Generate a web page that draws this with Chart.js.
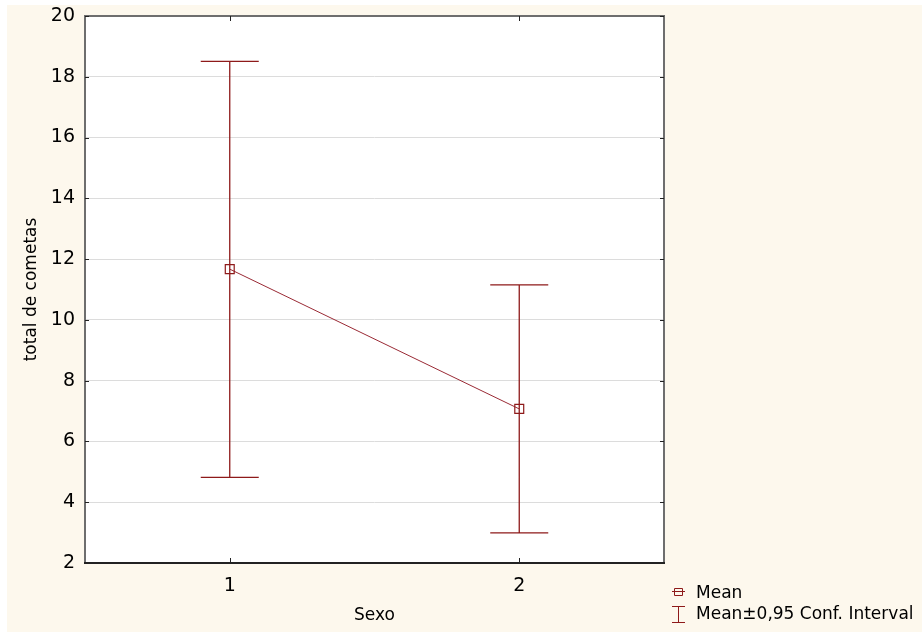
<!DOCTYPE html>
<html>
<head>
<meta charset="utf-8">
<script src="https://cdn.jsdelivr.net/npm/chart.js@4/dist/chart.umd.min.js"></script>
<style>
  html, body { margin: 0; padding: 0; background: #ffffff; }
  #wrap { width: 923px; height: 633px; }
</style>
</head>
<body>
<div id="wrap"><canvas id="c" width="923" height="633"></canvas></div>
<script>
// Sexo groups on the x axis
const categories = ['1', '2'];
// Mean of total de cometas per group
const means = [11.67, 7.07];
// 95% confidence interval bounds
const ciLow = [4.82, 2.99];
const ciHigh = [18.51, 11.15];
// Y axis range and step
const yMin = 2, yMax = 20, yStep = 2;
// Legend entries
const legendLabels = ['Mean', 'Mean\u00B10,95 Conf. Interval'];

const RED = '#8e1a1a';
const FONT = 'DejaVu Sans';

const framePlugin = {
  id: 'frame',
  beforeDraw(chart) {
    const { ctx, chartArea: a } = chart;
    ctx.save();
    ctx.fillStyle = '#ffffff';
    ctx.fillRect(0, 0, chart.width, chart.height);
    ctx.fillStyle = '#fdf8ed';
    ctx.fillRect(7, 5, 915, 627);
    ctx.fillStyle = '#ffffff';
    ctx.fillRect(a.left, a.top, a.right - a.left, a.bottom - a.top);
    ctx.restore();
  },
  beforeDatasetsDraw(chart) {
    const { ctx, chartArea: a, scales } = chart;
    const x = scales.x, y = scales.y;
    ctx.save();
    // plot frame
    ctx.lineWidth = 2;
    ctx.strokeStyle = '#6e6e6e';
    ctx.strokeRect(a.left, a.top, a.right - a.left, a.bottom - a.top);
    ctx.strokeStyle = '#222222';
    ctx.beginPath();
    ctx.moveTo(a.left - 1, a.bottom);
    ctx.lineTo(a.right + 1, a.bottom);
    ctx.stroke();
    // inward tick marks
    ctx.lineWidth = 1;
    ctx.strokeStyle = '#222222';
    ctx.beginPath();
    y.ticks.forEach(t => {
      const py = Math.round(y.getPixelForValue(t.value)) + 0.5;
      ctx.moveTo(a.left, py); ctx.lineTo(a.left + 4, py);
      ctx.moveTo(a.right, py); ctx.lineTo(a.right - 4, py);
    });
    categories.forEach((c, i) => {
      const px = Math.round(x.getPixelForValue(i)) + 0.5;
      ctx.moveTo(px, a.top); ctx.lineTo(px, a.top + 5);
      ctx.moveTo(px, a.bottom); ctx.lineTo(px, a.bottom - 5);
    });
    ctx.stroke();
    // confidence interval whiskers
    ctx.strokeStyle = RED;
    ctx.lineWidth = 1.3;
    const cap = 29;
    ctx.beginPath();
    categories.forEach((c, i) => {
      const px = x.getPixelForValue(i);
      const lo = y.getPixelForValue(ciLow[i]);
      const hi = y.getPixelForValue(ciHigh[i]);
      ctx.moveTo(px, lo); ctx.lineTo(px, hi);
      ctx.moveTo(px - cap, lo); ctx.lineTo(px + cap, lo);
      ctx.moveTo(px - cap, hi); ctx.lineTo(px + cap, hi);
    });
    ctx.stroke();
    ctx.restore();
  },
  afterDraw(chart) {
    const { ctx } = chart;
    ctx.save();
    ctx.strokeStyle = RED;
    ctx.lineWidth = 1;
    // mean symbol
    ctx.beginPath();
    ctx.moveTo(672, 591.5); ctx.lineTo(685, 591.5);
    ctx.rect(674.5, 588.5, 8, 7);
    ctx.stroke();
    // interval symbol
    ctx.beginPath();
    ctx.moveTo(678.5, 606); ctx.lineTo(678.5, 623);
    ctx.moveTo(672, 606.5); ctx.lineTo(685, 606.5);
    ctx.moveTo(672, 622.5); ctx.lineTo(685, 622.5);
    ctx.stroke();
    ctx.fillStyle = '#000000';
    ctx.font = '17px "' + FONT + '"';
    ctx.textBaseline = 'alphabetic';
    ctx.textAlign = 'left';
    ctx.fillText(legendLabels[0], 696, 598);
    ctx.fillText(legendLabels[1], 696, 619);
    ctx.restore();
  }
};

new Chart(document.getElementById('c'), {
  type: 'line',
  data: {
    labels: categories,
    datasets: [{
      label: legendLabels[0],
      data: means,
      borderColor: '#9a2a35',
      borderWidth: 1,
      backgroundColor: 'rgba(0,0,0,0)',
      pointStyle: 'rect',
      pointRadius: 6.3,
      pointBorderWidth: 1.2,
      pointBorderColor: RED,
      pointBackgroundColor: 'rgba(0,0,0,0)',
      tension: 0
    }]
  },
  options: {
    responsive: false,
    animation: false,
    events: [],
    layout: { padding: { top: 16, right: 259, left: 0, bottom: 0 } },
    plugins: { legend: { display: false }, tooltip: { enabled: false } },
    scales: {
      x: {
        type: 'category',
        offset: true,
        grid: { display: false, drawTicks: false },
        border: { display: false },
        ticks: { color: '#000000', font: { family: FONT, size: 19 }, padding: 12 },
        title: { display: true, text: 'Sexo', color: '#000000', font: { family: FONT, size: 17 }, padding: { top: 0, bottom: 7 } },
        afterFit(s) { s.height = 70; s.paddingLeft = 0; s.paddingRight = 0; }
      },
      y: {
        min: yMin, max: yMax,
        grid: { color: '#dcdcdc', lineWidth: 1, drawTicks: false },
        border: { display: false },
        ticks: { stepSize: yStep, color: '#000000', font: { family: FONT, size: 19 }, padding: 10 },
        title: { display: true, text: 'total de cometas', color: '#000000', font: { family: FONT, size: 17 }, padding: { top: 21, bottom: 0 } },
        afterFit(s) { s.width = 85; s.paddingTop = 0; s.paddingBottom = 0; }
      }
    }
  },
  plugins: [framePlugin]
});
</script>
</body>
</html>
